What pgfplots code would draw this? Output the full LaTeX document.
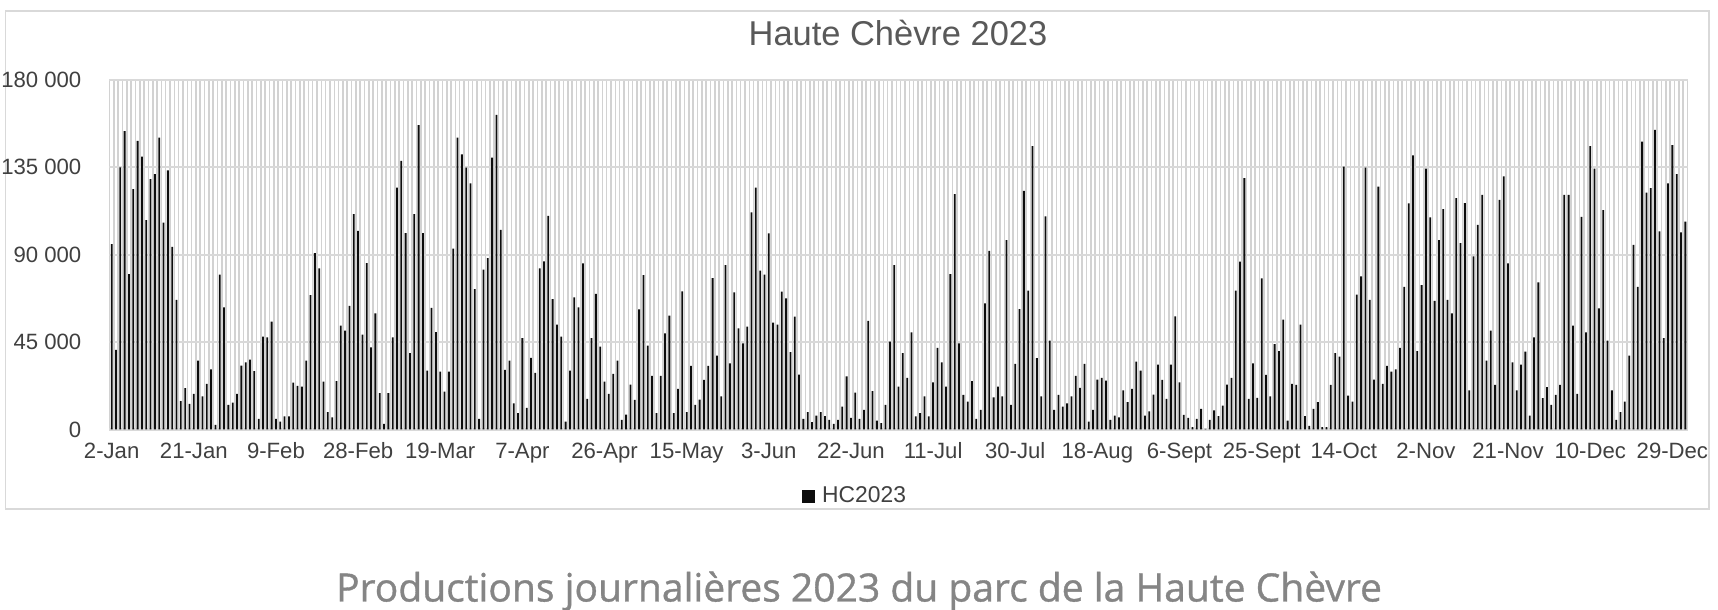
\documentclass[border=0pt]{standalone}
\usepackage{fontspec}
\setmainfont{Liberation Sans}
\newfontfamily\capfont{Open Sans}[BoldFont={Open Sans}, BoldFeatures={FakeBold=0.9}]
\usepackage{pgfplots}
\usepackage{pgfplotstable}
\pgfplotsset{compat=1.18}

\definecolor{barblack}{HTML}{0D0D0D}
\definecolor{stripegray}{HTML}{D2D2D2}
\definecolor{hgridgray}{HTML}{D9D9D9}
\definecolor{framegray}{HTML}{D9D9D9}
\definecolor{labelgray}{HTML}{404040}
\definecolor{titlegray}{HTML}{595959}
\definecolor{captiongray}{HTML}{858585}

% Daily production of the Haute Chevre wind farm, 2023 (one value per day, from 2-Jan)
\pgfplotstableread[row sep=\\]{
prod\\
95500\\ 41000\\ 135000\\ 153700\\ 80000\\ 123800\\ 148600\\ 140500\\ 107800\\ 128900\\
131500\\ 150300\\ 106600\\ 133500\\ 94100\\ 66800\\ 14600\\ 21300\\ 13200\\ 18300\\
35500\\ 17100\\ 23500\\ 30900\\ 2400\\ 79700\\ 62900\\ 12700\\ 13900\\ 18300\\
32900\\ 34600\\ 36000\\ 30000\\ 5500\\ 47800\\ 47500\\ 55500\\ 5500\\ 4100\\
6700\\ 6700\\ 24200\\ 22500\\ 22100\\ 35500\\ 69200\\ 90800\\ 83000\\ 24700\\
8900\\ 6300\\ 24900\\ 53500\\ 50900\\ 63600\\ 110900\\ 102300\\ 48800\\ 85700\\
42300\\ 59800\\ 18700\\ 2900\\ 18700\\ 47500\\ 124600\\ 138300\\ 101100\\ 39300\\
110900\\ 156700\\ 101100\\ 30300\\ 62600\\ 50200\\ 29800\\ 19500\\ 29800\\ 93200\\
150300\\ 141700\\ 134900\\ 126700\\ 72300\\ 5500\\ 82300\\ 88300\\ 140000\\ 162000\\
102800\\ 30700\\ 35500\\ 13500\\ 8400\\ 47100\\ 11100\\ 36900\\ 29100\\ 83000\\
86600\\ 110000\\ 67200\\ 54000\\ 47800\\ 4100\\ 30300\\ 68000\\ 62900\\ 85500\\
15800\\ 47100\\ 69800\\ 42700\\ 24700\\ 18300\\ 28600\\ 35500\\ 5000\\ 7700\\
23100\\ 15300\\ 61900\\ 79500\\ 43200\\ 27600\\ 8400\\ 27600\\ 49500\\ 58600\\
8400\\ 20900\\ 71100\\ 8900\\ 32700\\ 12700\\ 15400\\ 25500\\ 32700\\ 78000\\
38100\\ 17100\\ 84700\\ 34100\\ 70600\\ 52100\\ 44400\\ 53000\\ 111800\\ 124600\\
81800\\ 79700\\ 101000\\ 55000\\ 54000\\ 71000\\ 67500\\ 39800\\ 58100\\ 28300\\
5500\\ 8900\\ 3800\\ 7200\\ 8900\\ 6900\\ 5000\\ 2900\\ 5000\\ 11800\\
27300\\ 6000\\ 19000\\ 5500\\ 10100\\ 56000\\ 19700\\ 4600\\ 3300\\ 12700\\
45200\\ 84700\\ 22100\\ 39300\\ 26600\\ 50000\\ 6700\\ 8400\\ 17000\\ 6700\\
24300\\ 42000\\ 34600\\ 22100\\ 80000\\ 121200\\ 44400\\ 17800\\ 14400\\ 24900\\
5500\\ 10100\\ 65000\\ 92000\\ 16600\\ 22100\\ 17000\\ 97500\\ 12700\\ 33800\\
62000\\ 122900\\ 71500\\ 146000\\ 36700\\ 17000\\ 109700\\ 45800\\ 10100\\ 17800\\
11800\\ 13500\\ 17000\\ 27600\\ 21400\\ 33800\\ 4100\\ 10100\\ 25700\\ 26600\\
25200\\ 5000\\ 7200\\ 6300\\ 20100\\ 14100\\ 20900\\ 35000\\ 30300\\ 7200\\
9300\\ 18000\\ 33400\\ 25500\\ 15800\\ 33400\\ 58300\\ 24300\\ 7500\\ 6000\\
1200\\ 5500\\ 10600\\ 300\\ 5000\\ 9800\\ 6900\\ 12300\\ 23100\\ 26600\\
71500\\ 86400\\ 129400\\ 15800\\ 34100\\ 16300\\ 77800\\ 28100\\ 17100\\ 44000\\
40300\\ 56600\\ 4600\\ 23500\\ 23000\\ 54000\\ 6900\\ 1900\\ 10600\\ 14100\\
1200\\ 1200\\ 23000\\ 39300\\ 37500\\ 135400\\ 17500\\ 14400\\ 69400\\ 78800\\
134900\\ 66700\\ 25700\\ 125100\\ 23500\\ 32700\\ 29800\\ 31000\\ 42000\\ 73500\\
116400\\ 141200\\ 40300\\ 74400\\ 134400\\ 109200\\ 66300\\ 97500\\ 113500\\ 66700\\
59800\\ 119100\\ 96000\\ 116600\\ 20100\\ 89100\\ 105400\\ 120800\\ 35500\\ 50900\\
23000\\ 118300\\ 130300\\ 85500\\ 34600\\ 20100\\ 33400\\ 40100\\ 7200\\ 47500\\
75800\\ 16100\\ 21800\\ 12700\\ 17800\\ 23000\\ 120800\\ 120800\\ 53500\\ 18300\\
109500\\ 50000\\ 146000\\ 134400\\ 62400\\ 113000\\ 45800\\ 20100\\ 5000\\ 8900\\
14400\\ 38100\\ 95100\\ 73500\\ 148300\\ 122000\\ 124300\\ 154300\\ 102000\\ 47100\\
126700\\ 146400\\ 131500\\ 101500\\ 107100\\
}\prodtable

\begin{document}
\begin{tikzpicture}[x=1cm,y=1cm]
\useasboundingbox (0,0) rectangle (17.18,6.10);
\fill[white] (0,0) rectangle (17.18,6.10);
% chart frame
\draw[framegray, line width=0.35pt] (0.055,1.01) rectangle (17.09,5.99);
% chart title
\node[anchor=base, inner sep=0pt, text=titlegray, font=\fontsize{9.8}{12}\selectfont]
  at (8.98,5.64) {Haute Chèvre 2023};
\begin{axis}[
  at={(1.095cm,1.805cm)}, anchor=south west,
  scale only axis, width=15.78cm, height=3.495cm,
  xmin=-0.5, xmax=364.5, ymin=0, ymax=180000,
  axis line style={draw=none},
  tick style={draw=none},
  xtick={0,19,...,361},
  xticklabels={2-Jan,21-Jan,9-Feb,28-Feb,19-Mar,7-Apr,26-Apr,15-May,3-Jun,22-Jun,11-Jul,30-Jul,18-Aug,6-Sept,25-Sept,14-Oct,2-Nov,21-Nov,10-Dec,29-Dec},
  minor xtick={-0.5,0.5,...,364.5},
  xminorgrids,
  minor grid style={stripegray, line width=0.45pt},
  ytick={0,45000,90000,135000,180000},
  yticklabels={0,45~000,90~000,135~000,180~000},
  scaled y ticks=false,
  ymajorgrids,
  major grid style={hgridgray, line width=0.6pt},
  xticklabel style={anchor=base, inner sep=0pt, yshift=-0.29cm, text=labelgray, font=\fontsize{6.3}{7}\selectfont},
  yticklabel style={anchor=east, inner sep=0pt, xshift=-0.275cm, text=labelgray, font=\fontsize{6.3}{7}\selectfont},
  legend style={at={(0.4385,-0.193)}, anchor=west, draw=none, fill=none, inner sep=0pt,
    font=\fontsize{6.5}{7}\selectfont, text=labelgray},
  legend image code/.code={\fill[barblack] (0cm,-0.065cm) rectangle (0.13cm,0.065cm);},
]
\addplot[ybar, bar width=0.018cm, fill=barblack, draw=none]
  table[x expr=\coordindex, y=prod] {\prodtable};
\addlegendentry{HC2023}
\end{axis}
% caption under the chart
\node[anchor=base, inner sep=0pt, text=captiongray, font=\capfont\bfseries\fontsize{11.1}{13}\selectfont]
  at (8.59,0.085) {Productions journalières 2023 du parc de la Haute Chèvre};
\end{tikzpicture}
\end{document}
